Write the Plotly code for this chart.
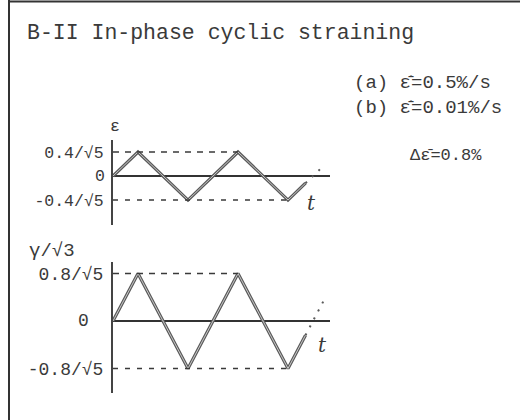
import numpy as np
import plotly.graph_objects as go

# strain amplitudes written on the two axes
EPS_AMP = 0.4 / np.sqrt(5)   # axial strain  epsilon
GAM_AMP = 0.8 / np.sqrt(5)   # shear strain  gamma / sqrt(3)

# time in quarter-cycle units: turning points of the triangular waves
T_WAVE = [0, 1, 3, 5, 7, 7.7]
EPS_WAVE = [0, EPS_AMP, -EPS_AMP, EPS_AMP, -EPS_AMP, -0.3 * EPS_AMP]
GAM_WAVE = [0, GAM_AMP, -GAM_AMP, GAM_AMP, -GAM_AMP, -0.3 * GAM_AMP]

# dotted continuation of the last ramp
T_CONT_EPS = [7.7, 8.3]
EPS_CONT = [-0.3 * EPS_AMP, 0.3 * EPS_AMP]
T_CONT_GAM = [7.7, 8.5]
GAM_CONT = [-0.3 * GAM_AMP, 0.5 * GAM_AMP]

# guide lines run to the last peak and the last valley
T_PEAK_GUIDE = [0, 5]
T_VALLEY_GUIDE = [0, 7]
T_MAX = 8.68

EPS_TICKS = [EPS_AMP, -EPS_AMP]
EPS_TICKTEXT = ["0.4/√5", "-0.4/√5"]
GAM_TICKS = [GAM_AMP, -GAM_AMP]
GAM_TICKTEXT = ["0.8/√5", "-0.8/√5"]

W, H = 520, 420
MONO = "Liberation Mono, DejaVu Sans Mono, monospace"
INK = "#3a3a3a"
WAVE = "#5a5a5a"

fig = go.Figure()


def add_panel(xa, ya, wave, cont_t, cont_v, amp):
    # hollow pen stroke: dark outer line with a pale core
    fig.add_trace(go.Scatter(x=T_WAVE, y=wave, mode="lines",
                             line=dict(color=WAVE, width=3.2),
                             xaxis=xa, yaxis=ya, hoverinfo="skip"))
    fig.add_trace(go.Scatter(x=T_WAVE, y=wave, mode="lines",
                             line=dict(color="#c8c8c8", width=1),
                             xaxis=xa, yaxis=ya, hoverinfo="skip"))
    fig.add_trace(go.Scatter(x=cont_t, y=cont_v, mode="lines",
                             line=dict(color=WAVE, width=2, dash="2px,7px"),
                             xaxis=xa, yaxis=ya, hoverinfo="skip"))
    fig.add_trace(go.Scatter(x=T_PEAK_GUIDE, y=[amp, amp], mode="lines",
                             line=dict(color=INK, width=1.6, dash="6px,6px"),
                             xaxis=xa, yaxis=ya, hoverinfo="skip"))
    fig.add_trace(go.Scatter(x=T_VALLEY_GUIDE, y=[-amp, -amp], mode="lines",
                             line=dict(color=INK, width=1.6, dash="5px,7px"),
                             xaxis=xa, yaxis=ya, hoverinfo="skip"))


add_panel("x", "y", EPS_WAVE, T_CONT_EPS, EPS_CONT, EPS_AMP)
add_panel("x2", "y2", GAM_WAVE, T_CONT_GAM, GAM_CONT, GAM_AMP)

xdom = [113 / W, 330 / W]
xcommon = dict(domain=xdom, range=[0, T_MAX], visible=False, fixedrange=True)
ycommon = dict(showgrid=False, showline=True, linecolor="#444", linewidth=2,
               zeroline=True, zerolinecolor="#333", zerolinewidth=2,
               ticks="", ticklabelstandoff=4)

fig.update_layout(
    width=W, height=H,
    margin=dict(l=0, r=0, t=0, b=0),
    paper_bgcolor="white", plot_bgcolor="rgba(0,0,0,0)",
    showlegend=False,
    xaxis=dict(**xcommon, anchor="y"),
    xaxis2=dict(**xcommon, anchor="y2"),
    yaxis=dict(**ycommon, anchor="x",
               domain=[1 - 225 / H, 1 - 140 / H],
               range=[-2.04 * EPS_AMP, 1.5 * EPS_AMP],
               tickvals=EPS_TICKS, ticktext=EPS_TICKTEXT,
               tickfont=dict(family=MONO, size=16.5, color=INK)),
    yaxis2=dict(**ycommon, anchor="x2",
                domain=[1 - 393 / H, 1 - 262 / H],
                range=[-1.516 * GAM_AMP, 1.242 * GAM_AMP],
                tickvals=GAM_TICKS, ticktext=GAM_TICKTEXT,
                tickfont=dict(family=MONO, size=18, color=INK)),
)

txt = dict(family=MONO, color=INK)
annotations = [
    dict(text="B-II In-phase cyclic straining", x=25 / W, y=1 - 33 / H,
         xref="paper", yref="paper", xanchor="left", yanchor="middle",
         font=dict(**txt, size=21.5)),
    dict(text="(a) ε\u0304\u0307=0.5%/s", x=352 / W, y=1 - 83 / H,
         xref="paper", yref="paper", xanchor="left", yanchor="middle",
         font=dict(**txt, size=19)),
    dict(text="(b) ε\u0304\u0307=0.01%/s", x=352 / W, y=1 - 108 / H,
         xref="paper", yref="paper", xanchor="left", yanchor="middle",
         font=dict(**txt, size=19)),
    dict(text="Δε\u0304=0.8%", x=408 / W, y=1 - 155 / H,
         xref="paper", yref="paper", xanchor="left", yanchor="middle",
         font=dict(**txt, size=17)),
    # zero labels of both ordinates
    dict(text="0", x=0, y=0, xref="x domain", yref="y",
         xanchor="center", yanchor="middle", xshift=-13,
         font=dict(**txt, size=16.5)),
    dict(text="0", x=0, y=0, xref="x2 domain", yref="y2",
         xanchor="center", yanchor="middle", xshift=-30,
         font=dict(**txt, size=18)),
    # axis names
    dict(text="ε", x=0, y=1, xref="x domain", yref="y domain",
         xanchor="center", yanchor="bottom", xshift=2, yshift=2,
         font=dict(**txt, size=16.5)),
    dict(text="γ/√3", x=0, y=1, xref="x2 domain", yref="y2 domain",
         xanchor="right", yanchor="bottom", xshift=-36, yshift=-2,
         font=dict(**txt, size=19)),
    dict(text="<i>t</i>", x=7.92, y=-1.12 * EPS_AMP, xref="x", yref="y",
         font=dict(family="DejaVu Serif", size=20, color=INK)),
    dict(text="<i>t</i>", x=8.36, y=-0.5 * GAM_AMP, xref="x2", yref="y2",
         font=dict(family="DejaVu Serif", size=20, color=INK)),
]
for a in annotations:
    a.setdefault("showarrow", False)
fig.update_layout(annotations=annotations)

# page frame: left and top rules
fig.add_shape(type="line", xref="paper", yref="paper",
              x0=9 / W, x1=9 / W, y0=0, y1=1,
              line=dict(color="#333", width=2))
fig.add_shape(type="line", xref="paper", yref="paper",
              x0=9 / W, x1=1, y0=1 - 1.5 / H, y1=1 - 1.5 / H,
              line=dict(color="#333", width=2))

fig.write_html("out.html")
